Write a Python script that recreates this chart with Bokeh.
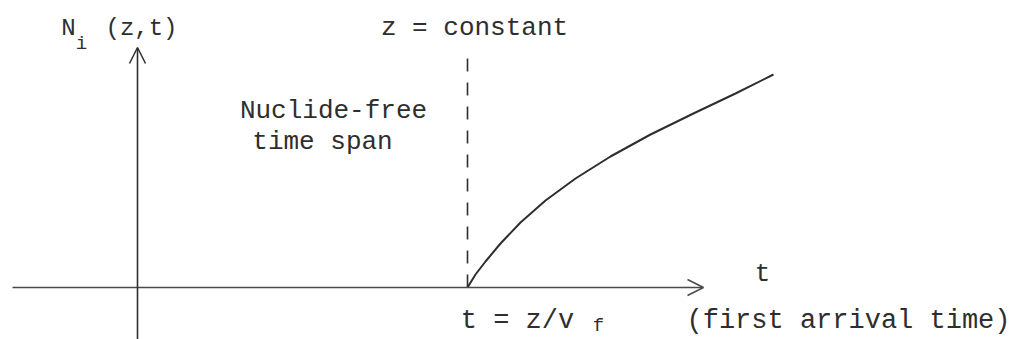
from bokeh.plotting import figure
from bokeh.models import Range1d, Arrow, OpenHead, ColumnDataSource
from bokeh.embed import file_html
from bokeh.resources import INLINE
from bokeh.core.properties import value

# ---- diagram data (t along horizontal, N along vertical; origin at axes crossing)
axis_t = [-125, 566]          # horizontal axis extent (left end, arrow tip)
axis_n = [-52, 240]           # vertical axis extent (bottom end, arrow tip)
first_arrival_t = 330         # t = z / v_f
dash_top_n = 235
curve_t = [330, 338, 348, 363, 383, 408, 438, 473, 513, 558, 598, 636]
curve_n = [0, 13, 26, 44, 65, 87, 109, 131, 153, 175, 194, 213]

# labels: text, t-centre, n-baseline, size
labels_text = ["N", "i", "(z,t)", "z = constant", "Nuclide-free", "time span",
               "t", "t = z/v", "f", "(first arrival time)"]
labels_t = [-69, -56, 4, 337, 196, 185, 625, 380, 461, 711]
labels_n = [259, 244, 259, 260, 177, 146, 14, -33, -38, -33]
labels_size = ["24px", "19px", "24px", "26px", "26px", "26px", "26px", "27px", "19px", "27px"]

INK = "#2e2e2e"
AXIS_INK = "#4a4a4a"
FONT = value("Liberation Mono")

p = figure(width=1013, height=339, output_backend="svg", toolbar_location=None,
           x_range=Range1d(-137, 876), y_range=Range1d(-52, 287),
           min_border=0, background_fill_color="white", border_fill_color="white")
p.axis.visible = False
p.grid.visible = False
p.outline_line_color = None

# axes with open arrow heads
p.add_layout(Arrow(end=OpenHead(size=16, line_color=AXIS_INK, line_width=1.5),
                   x_start=axis_t[0], y_start=0, x_end=axis_t[1], y_end=0,
                   line_color=AXIS_INK, line_width=1.6))
p.add_layout(Arrow(end=OpenHead(size=16, line_color=INK, line_width=1.5),
                   x_start=0, y_start=axis_n[0], x_end=0, y_end=axis_n[1],
                   line_color=INK, line_width=1.6))

# dashed marker at first arrival time
p.line([first_arrival_t, first_arrival_t], [0, dash_top_n], line_color=INK,
       line_width=1.6, line_dash="13 11")

# concentration curve
p.line(curve_t, curve_n, line_color=INK, line_width=2.0)

src = ColumnDataSource(dict(x=labels_t, y=labels_n, text=labels_text, size=labels_size))
p.text(x="x", y="y", text="text", source=src, text_font=FONT, text_font_size="size",
       text_align="center", text_baseline="alphabetic", text_color=INK)

open("out.html", "w").write(file_html(p, INLINE))
